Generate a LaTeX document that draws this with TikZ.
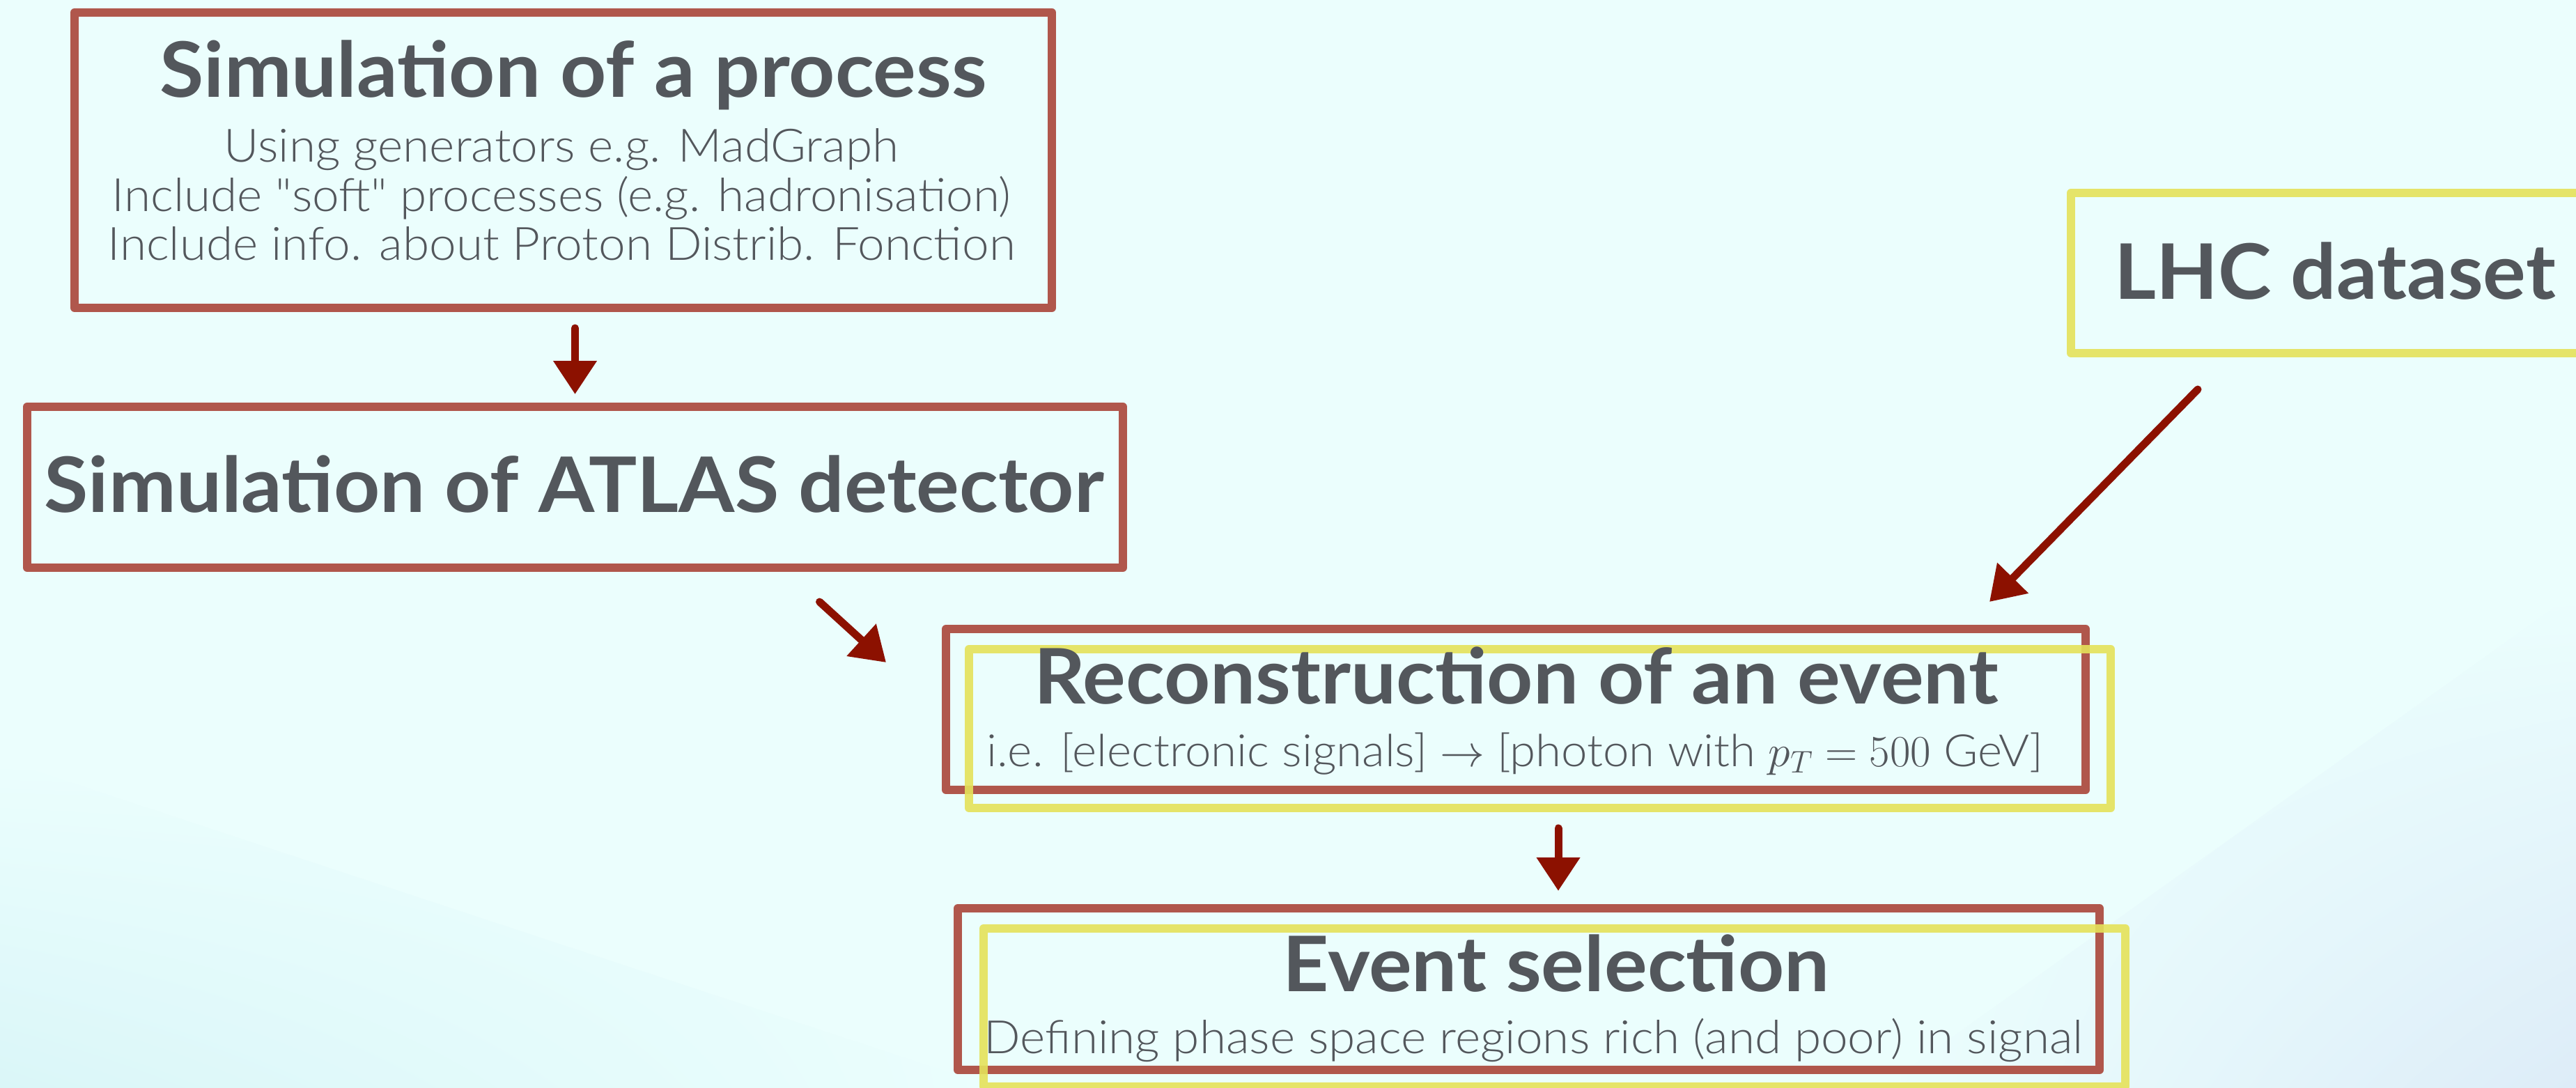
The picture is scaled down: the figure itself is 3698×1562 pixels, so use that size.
\RequirePackage{fix-cm}
\documentclass[tikz,border=0pt]{standalone}
\usepackage{fontspec}
\newfontfamily\lightfont{Lato Light}[FakeStretch=1.05]
\newfontfamily\boldfont{Lato Bold}[FakeStretch=1.05]
\usetikzlibrary{arrows.meta,positioning,calc,shadings}

\definecolor{bgcyan}{RGB}{235,254,253}
\definecolor{bgblue}{RGB}{221,236,248}
\definecolor{bgteal}{RGB}{218,246,248}
\definecolor{chalkred}{RGB}{176,87,76}
\definecolor{chalkyel}{RGB}{229,226,90}
\definecolor{arrred}{RGB}{140,17,0}
\definecolor{txtgray}{RGB}{83,87,92}

\tikzset{
  redbox/.style={draw=chalkred, line width=12pt, inner sep=0pt},
  yelbox/.style={draw=chalkyel, line width=12pt, inner sep=0pt, draw opacity=0.9},
  headlab/.style={font=\boldfont\fontsize{110}{113}\selectfont, text=txtgray, anchor=base, inner sep=0pt},
  sublab/.style={font=\lightfont\fontsize{66}{70}\selectfont, text=txtgray, anchor=base, inner sep=0pt},
  flow/.style={draw=arrred, line width=11pt, -{Triangle[length=48pt,width=60pt]}}
}

\begin{document}
\begin{tikzpicture}[x=1pt,y=-1pt, line cap=round, line join=round]

% fond
\clip (0,0) rectangle (3698,1562);
\fill[bgcyan] (0,0) rectangle (3698,1562);
\shade[upper left=bgcyan, upper right=bgcyan, lower right=bgcyan, lower left=bgteal]
  (0,1090) -- (1430,1562) -- (0,1562) -- cycle;
\shade[upper left=bgcyan, upper right=bgcyan, lower left=bgcyan, lower right=bgblue]
  (2700,1562) -- (3698,850) -- (3698,1562) -- cycle;

% cadres
\node[redbox, minimum width=1403pt, minimum height=424pt] (sim) at (808.5,230) {};
\node[redbox, minimum width=1573pt, minimum height=231pt] (det) at (825.5,699.5) {};
\node[yelbox, minimum width=767pt,  minimum height=230pt] (lhc) at (3356.5,392) {};

\node[redbox, minimum width=1636pt, minimum height=231pt] (rec)  at (2176,1018.5) {};
\node[yelbox, minimum width=1639pt, minimum height=228pt] (recY) at (2210.5,1046) {};

\node[redbox, minimum width=1639pt, minimum height=232pt] (sel)  at (2194.5,1420) {};
\node[yelbox, minimum width=1639pt, minimum height=227pt] (selY) at (2231.5,1446.5) {};

% titres
\node[headlab] (simT) at (823,140)  {Simulation of a process};
\node[headlab] (detT) at (824,735)  {Simulation of ATLAS detector};
\node[headlab] (lhcT) at (3352,429) {LHC dataset};
\node[headlab] (recT) at (2176.5,1010) {Reconstruction of an event};
\node[headlab] (selT) at (2234,1423) {Event selection};

% sous-titres
\node[sublab] (simA) at (806,233) {Using generators e.g. MadGraph};
\node[sublab] (simB) at (806,303) {Include "soft" processes (e.g. hadronisation)};
\node[sublab] (simC) at (806,373) {Include info. about Proton Distrib. Fonction};
\node[sublab, font=\lightfont\fontsize{64}{70}\selectfont] (recA) at (2175,1100)
  {i.e. [electronic signals] $\rightarrow$ [photon with $p_T = 500$ GeV]};
\node[sublab] (selA) at (2201.5,1512) {Defining phase space regions rich (and poor) in signal};

% fleches
\draw[flow, shorten <=23pt, shorten >=12pt] (sim.south -| det.north) -- (det.north);
\draw[flow] ($(det.south)+(351,43)$) -- ($(rec.north west)+(-80,54)$);
\draw[flow] ($(lhc.south west)+(188,46)$) -- ($(rec.north east)+(-144,-33)$);
\draw[flow] ($(recY.south)+(26.5,23)$) -- ($(sel.north)+(42.5,-19)$);

\end{tikzpicture}
\end{document}
